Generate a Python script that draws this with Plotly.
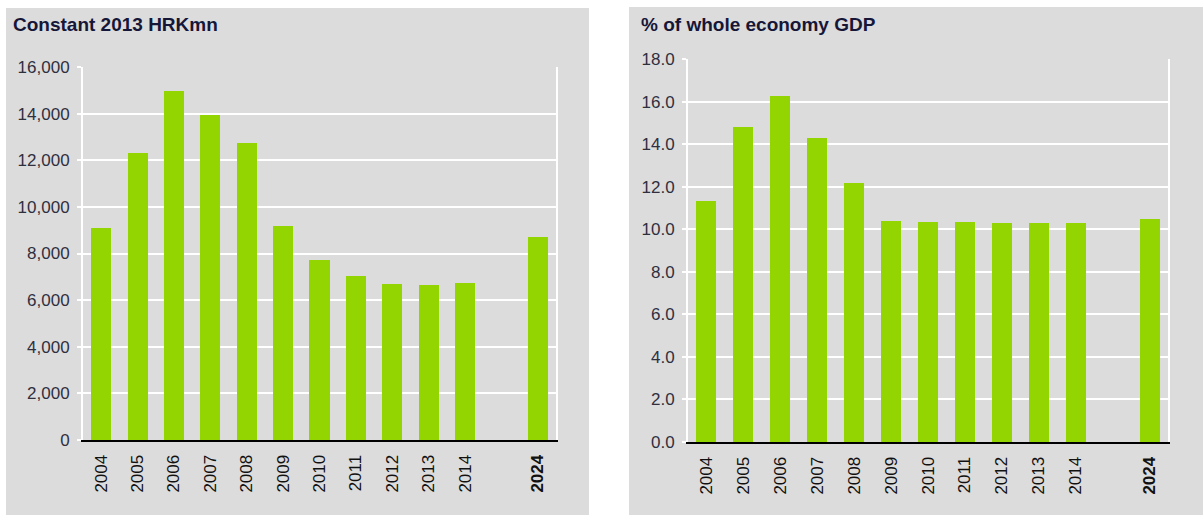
import plotly.graph_objects as go

years = ["2004", "2005", "2006", "2007", "2008", "2009", "2010", "2011", "2012", "2013", "2014", "2024"]
positions = [0, 1, 2, 3, 4, 5, 6, 7, 8, 9, 10, 12]
hrk_values = [9100, 12300, 14950, 13950, 12750, 9200, 7700, 7050, 6700, 6650, 6750, 8700]
gdp_share = [11.35, 14.8, 16.25, 14.3, 12.15, 10.4, 10.35, 10.35, 10.3, 10.3, 10.3, 10.5]
tick_text = [y if y != "2024" else "<b>2024</b>" for y in years]

W, H = 1203, 515
BAR = "#93d500"
PANEL = "#dcdcdc"
FONT = "Liberation Sans, Arial, sans-serif"
TICKC = "#2f2f3f"
TITLEC = "#161638"

fig = go.Figure()
fig.add_trace(go.Bar(x=positions, y=hrk_values, marker=dict(color=BAR, line=dict(width=0)),
                     width=0.55, xaxis="x", yaxis="y", showlegend=False, hoverinfo="skip"))
fig.add_trace(go.Bar(x=positions, y=gdp_share, marker=dict(color=BAR, line=dict(width=0)),
                     width=0.54, xaxis="x2", yaxis="y2", showlegend=False, hoverinfo="skip"))

def px_x(p):
    return p / W

def px_y(p):
    return (H - p) / H

xcommon = dict(range=[-0.5, 12.5], tickmode="array", tickvals=positions, ticktext=tick_text,
               tickangle=-90, showgrid=False, zeroline=False, showline=True, linecolor="black",
               linewidth=2, ticks="", tickfont=dict(family=FONT, size=17, color="#111"),
               ticklabelstandoff=6, automargin=False, fixedrange=True)
ycommon = dict(showgrid=True, gridcolor="white", gridwidth=2, zeroline=False, showline=True,
               linecolor="white", linewidth=2, mirror=True, ticks="outside", ticklen=4,
               tickcolor="white", tickwidth=2, tickfont=dict(family=FONT, size=17, color=TICKC),
               ticklabelstandoff=4, automargin=False, fixedrange=True)

fig.update_layout(
    width=W, height=H, margin=dict(l=0, r=0, t=0, b=0, pad=0, autoexpand=False),
    paper_bgcolor="white", plot_bgcolor=PANEL, bargap=0,
    xaxis=dict(domain=[px_x(83), px_x(556)], anchor="y", **xcommon),
    yaxis=dict(domain=[px_y(440), px_y(67)], anchor="x", range=[0, 16000], dtick=2000,
               tickformat=",d", **ycommon),
    xaxis2=dict(domain=[px_x(688), px_x(1168)], anchor="y2", **xcommon),
    yaxis2=dict(domain=[px_y(442), px_y(59)], anchor="x2", range=[0, 18], dtick=2,
                tickformat=".1f", **ycommon),
    shapes=[
        dict(type="rect", xref="paper", yref="paper", x0=px_x(6), x1=px_x(589), y0=0, y1=px_y(8),
             fillcolor=PANEL, line=dict(width=0), layer="below"),
        dict(type="rect", xref="paper", yref="paper", x0=px_x(629), x1=1, y0=0, y1=px_y(7),
             fillcolor=PANEL, line=dict(width=0), layer="below"),
    ],
    annotations=[
        dict(text="<b>Constant 2013 HRKmn</b>", xref="paper", yref="paper", x=px_x(11), y=px_y(25),
             xanchor="left", yanchor="middle", showarrow=False,
             font=dict(family=FONT, size=19, color=TITLEC)),
        dict(text="<b>% of whole economy GDP</b>", xref="paper", yref="paper", x=px_x(639), y=px_y(24),
             xanchor="left", yanchor="middle", showarrow=False,
             font=dict(family=FONT, size=19, color=TITLEC)),
    ],
)

fig.write_html("out.html", config={"displayModeBar": False},
               post_script="document.body.style.margin='0';document.body.style.overflow='hidden';")
